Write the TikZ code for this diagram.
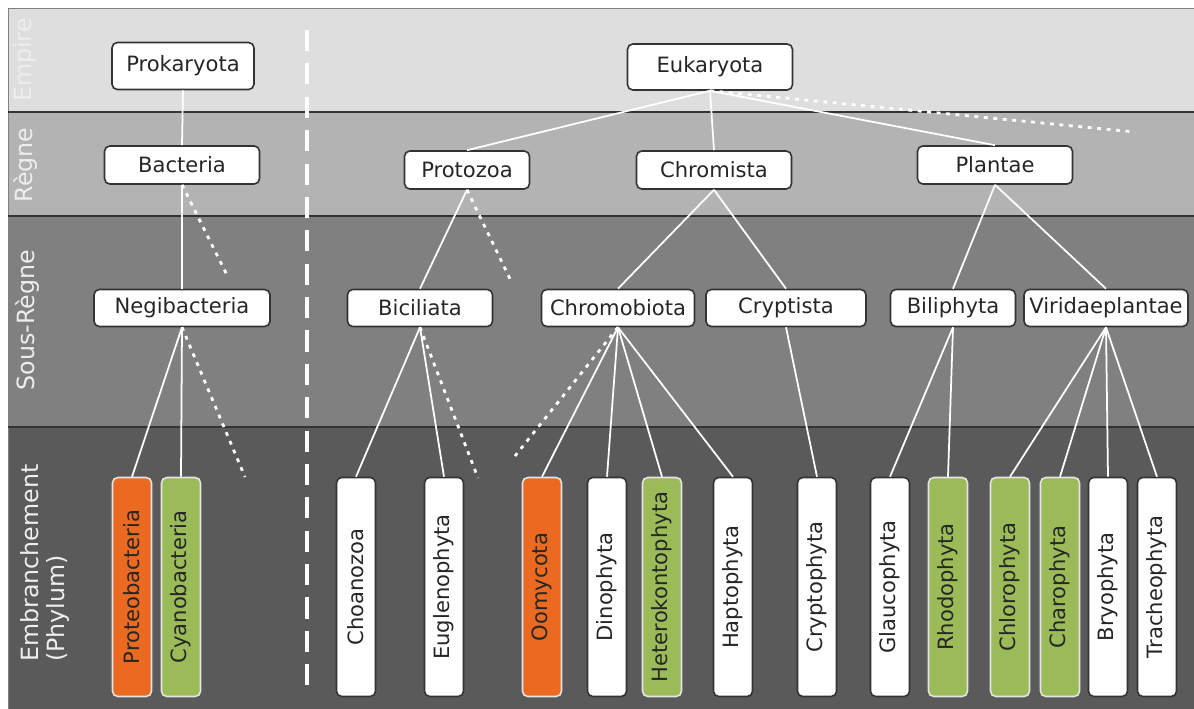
\documentclass[tikz,border=0pt]{standalone}
\usepackage{fontspec}
\setmainfont{DejaVu Sans}

\definecolor{empirebg}{HTML}{DEDEDE}
\definecolor{regnebg}{HTML}{B3B3B3}
\definecolor{sousbg}{HTML}{808080}
\definecolor{phylbg}{HTML}{5A5A5A}
\definecolor{borddark}{HTML}{333333}
\definecolor{bandtext}{HTML}{EEEEEE}
\definecolor{orangephyl}{HTML}{E96A20}
\definecolor{greenphyl}{HTML}{9BBB59}

\begin{document}
\begin{tikzpicture}[x=0.02cm, y=-0.02cm, font=\fontsize{12}{14}\selectfont,
  taxon/.style = {draw=borddark, line width=0.9pt, fill=white, rounded corners=3pt,
                  inner sep=1pt, minimum height=0.76cm, text=black!85},
  phylum/.style = {taxon, rotate=90, minimum width=4.38cm, minimum height=0.78cm},
  orangebox/.style = {phylum, fill=orangephyl, draw=white!90!black},
  greenbox/.style = {phylum, fill=greenphyl, draw=white!90!black},
  band/.style = {rotate=90, text=bandtext, font=\fontsize{13.5}{15}\selectfont},
  link/.style = {white, line width=1pt},
  dotlink/.style = {white, line width=1.6pt, dash pattern=on 2.2pt off 3.2pt}]
\useasboundingbox (0,0) rectangle (1194,709);

% bands
\fill[empirebg] (8,8) rectangle (1194,112);
\fill[regnebg] (8,112) rectangle (1194,216);
\fill[sousbg] (8,216) rectangle (1194,427);
\fill[phylbg] (8,427) rectangle (1194,709);
\draw[gray, line width=0.5pt] (1194,8) -- (8,8) -- (8,709);
\draw[borddark, line width=0.8pt] (8,112) -- (1194,112);
\draw[borddark, line width=0.8pt] (8,216) -- (1194,216);
\draw[borddark, line width=0.8pt] (8,427) -- (1194,427);

\node[band] (empire) at (25,60) {Empire};
\node[band] (regne) at (25,165) {Règne};
\node[band] (sousregne) at (27,320) {Sous-Règne};
\node[band, anchor=west, align=left] (embr) at (45,668) {Embranchement\\(Phylum)};

\draw[white, line width=2.6pt, dash pattern=on 12pt off 7pt] (307,30) -- (307,695);

% empire, regne, sous-regne
\node[taxon, minimum width=2.84cm, minimum height=0.94cm] (prok) at (183,66) {Prokaryota};
\node[taxon, minimum width=3.3cm, minimum height=0.92cm] (euk) at (710,67) {Eukaryota};
\node[taxon, minimum width=3.1cm] (bact) at (182,165) {Bacteria};
\node[taxon, minimum width=2.5cm] (proto) at (467,170) {Protozoa};
\node[taxon, minimum width=3.1cm] (chromista) at (714,170) {Chromista};
\node[taxon, minimum width=3.1cm] (plant) at (995,165) {Plantae};
\node[taxon, minimum width=3.52cm, minimum height=0.74cm] (negi) at (182,308) {Negibacteria};
\node[taxon, minimum width=2.9cm, minimum height=0.74cm] (bici) at (420,308) {Biciliata};
\node[taxon, minimum width=3.06cm, minimum height=0.74cm] (chromo) at (618,308) {Chromobiota};
\node[taxon, minimum width=3.2cm, minimum height=0.74cm] (crypt) at (786,308) {Cryptista};
\node[taxon, minimum width=2.5cm, minimum height=0.74cm] (bili) at (953,308) {Biliphyta};
\node[taxon, minimum width=3.28cm, minimum height=0.74cm] (viri) at (1106,308) {Viridaeplantae};

% embranchements
\node[orangebox] (proteo) at (132,587) {Proteobacteria};
\node[greenbox] (cyano) at (181,587) {Cyanobacteria};
\node[phylum] (choano) at (356,587) {Choanozoa};
\node[phylum] (eugle) at (444,587) {Euglenophyta};
\node[orangebox] (oomy) at (542,587) {Oomycota};
\node[phylum] (dino) at (607,587) {Dinophyta};
\node[greenbox] (hetero) at (662,587) {Heterokontophyta};
\node[phylum] (hapto) at (733,587) {Haptophyta};
\node[phylum] (cryptoph) at (817,587) {Cryptophyta};
\node[phylum] (glauco) at (890,587) {Glaucophyta};
\node[greenbox] (rhodo) at (948,587) {Rhodophyta};
\node[greenbox] (chloro) at (1010,587) {Chlorophyta};
\node[greenbox] (charo) at (1060,587) {Charophyta};
\node[phylum] (bryo) at (1108,587) {Bryophyta};
\node[phylum] (tracheo) at (1157,587) {Tracheophyta};

% free ends of the dotted links
\coordinate (bactend) at (228,277);
\coordinate (negiend) at (245,477);
\coordinate (eukend) at (1135,132);
\coordinate (protoend) at (512,283);
\coordinate (biciend) at (478,478);
\coordinate (chromoend) at (515,456);

\draw[link] (prok.south) -- (bact.north);
\draw[link] (bact.south) -- (negi.north);
\draw[link] (negi.south) -- (proteo.east);
\draw[link] (negi.south) -- (cyano.east);
\draw[link] (euk.south) -- (proto.north);
\draw[link] (euk.south) -- (chromista.north);
\draw[link] (euk.south) -- (plant.north);
\draw[link] (proto.south) -- (bici.north);
\draw[link] (chromista.south) -- (chromo.north);
\draw[link] (chromista.south) -- (crypt.north);
\draw[link] (plant.south) -- (bili.north);
\draw[link] (plant.south) -- (viri.north);
\draw[link] (bici.south) -- (choano.east);
\draw[link] (bici.south) -- (eugle.east);
\foreach \p in {oomy, dino, hetero, hapto}
  \draw[link] (chromo.south) -- (\p.east);
\draw[link] (crypt.south) -- (cryptoph.east);
\draw[link] (bili.south) -- (glauco.east);
\draw[link] (bili.south) -- (rhodo.east);
\foreach \p in {chloro, charo, bryo, tracheo}
  \draw[link] (viri.south) -- (\p.east);

\draw[dotlink] (bact.south) -- (bactend);
\draw[dotlink] (negi.south) -- (negiend);
\draw[dotlink] (euk.south) -- (eukend);
\draw[dotlink] (proto.south) -- (protoend);
\draw[dotlink] (bici.south) -- (biciend);
\draw[dotlink] (chromo.south) -- (chromoend);

\end{tikzpicture}
\end{document}
